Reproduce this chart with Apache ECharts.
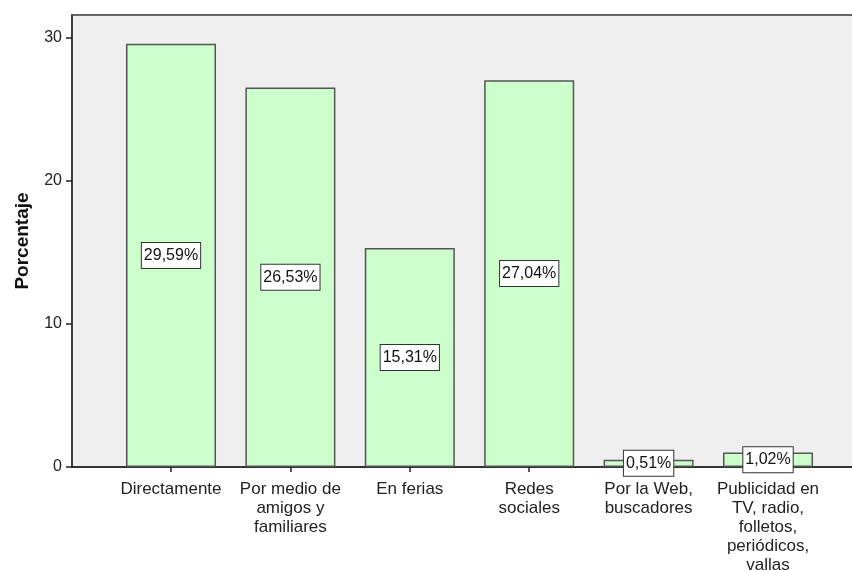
<!DOCTYPE html>
<html>
<head>
<meta charset="utf-8">
<script src="https://cdn.jsdelivr.net/npm/echarts@6/dist/echarts.min.js"></script>
<style>
  html, body { margin: 0; padding: 0; background: #ffffff; }
  #chart { width: 852px; height: 570px; }
</style>
</head>
<body>
<div id="chart"></div>
<script>
// Survey answer categories and their share of respondents (%)
const categories = [
  'Directamente',
  'Por medio de\namigos y\nfamiliares',
  'En ferias',
  'Redes\nsociales',
  'Por la Web,\nbuscadores',
  'Publicidad en\nTV, radio,\nfolletos,\nperiódicos,\nvallas'
];
const percentages = [29.59, 26.53, 15.31, 27.04, 0.51, 1.02];
const yTicks = [0, 10, 20, 30];
const yMax = 31.6;

const FONT = "'Liberation Sans', Arial, sans-serif";
const fmt = v => v.toFixed(2).replace('.', ',') + '%';

const chart = echarts.init(document.getElementById('chart'), null, { renderer: 'canvas' });

chart.setOption({
  animation: false,
  backgroundColor: '#ffffff',
  grid: [
    // panel with grey background, y axis and frame (right edge runs off the canvas)
    { left: 72, top: 15, right: -6, bottom: 103, show: true, outerBoundsMode: 'none',
      backgroundColor: '#efefef', borderColor: '#666666', borderWidth: 2 },
    // bar area
    { left: 111.3, top: 15, right: 24.3, bottom: 103, outerBoundsMode: 'none' }
  ],
  xAxis: [
    { gridIndex: 0, type: 'value', min: 0, max: 1,
      axisLine: { show: true, onZero: false, lineStyle: { color: '#222', width: 1.5 } },
      axisTick: { show: false }, axisLabel: { show: false }, splitLine: { show: false } },
    { gridIndex: 1, type: 'category', data: categories,
      axisLine: { show: false },
      axisTick: { show: true, alignWithLabel: true, length: 5, lineStyle: { color: '#222', width: 1.5 } },
      axisLabel: { interval: 0, margin: 13, fontFamily: FONT, fontSize: 17, lineHeight: 19, color: '#222' } }
  ],
  yAxis: [
    { gridIndex: 0, type: 'value', min: 0, max: yMax, interval: 10,
      name: 'Porcentaje', nameLocation: 'middle', nameGap: 40,
      nameTextStyle: { fontFamily: FONT, fontSize: 19, fontWeight: 'bold', color: '#111' },
      axisLine: { show: true, lineStyle: { color: '#333', width: 1.5 } },
      axisTick: { show: true, length: 6, customValues: yTicks, lineStyle: { color: '#222', width: 1.5 } },
      axisLabel: { customValues: yTicks, margin: 10, fontFamily: FONT, fontSize: 16, color: '#222' },
      splitLine: { show: false } },
    { gridIndex: 1, type: 'value', min: 0, max: yMax, show: false, splitLine: { show: false } }
  ],
  series: [{
    type: 'bar',
    xAxisIndex: 1, yAxisIndex: 1,
    data: percentages,
    barCategoryGap: '24.6%',
    itemStyle: { color: '#ccffcc', borderColor: '#555555', borderWidth: 1.5 },
    label: {
      show: true, position: 'inside', formatter: p => fmt(p.value),
      fontFamily: FONT, fontSize: 16, color: '#111',
      backgroundColor: '#ffffff', borderColor: '#333', borderWidth: 1,
      padding: [5, 2, 4, 2]
    }
  }]
});
</script>
</body>
</html>
